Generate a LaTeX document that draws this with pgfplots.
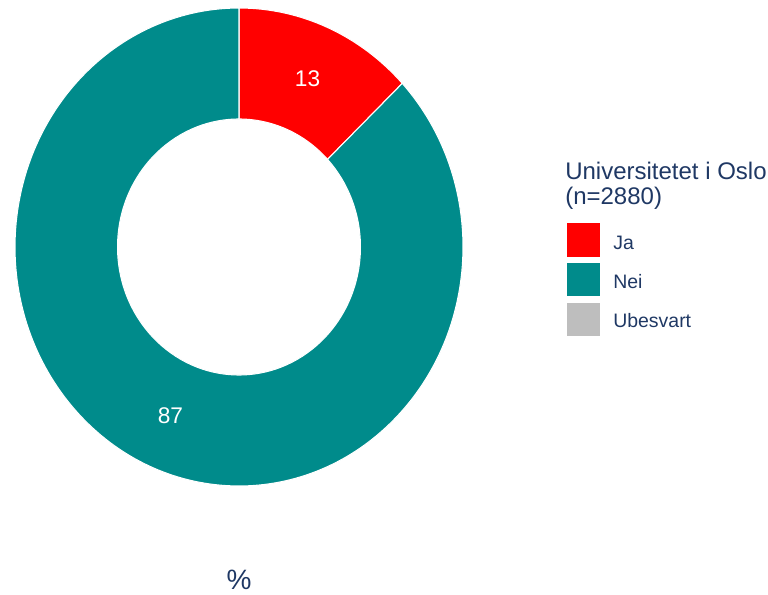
\documentclass[border=0pt]{standalone}
\usepackage{pgfplots}
\pgfplotsset{compat=1.18}
\usepackage{pgfplotstable}
\usepackage{fontspec}
\setmainfont{Liberation Sans}

\definecolor{ja}{RGB}{255,0,0}
\definecolor{nei}{RGB}{0,139,139}
\definecolor{ubesvart}{RGB}{190,190,190}
\definecolor{txt}{RGB}{31,56,100}

% share in percent
\pgfplotstableread{
label value
Ja 13
Nei 87
Ubesvart 0
}\svar

\pgfplotstablegetelem{0}{value}\of\svar \let\vJa\pgfplotsretval
\pgfplotstablegetelem{1}{value}\of\svar \let\vNei\pgfplotsretval

\pgfmathsetmacro\aA{90}
\pgfmathsetmacro\aB{90-3.6*\vJa}
\pgfmathsetmacro\aC{\aB-3.6*\vNei}
\pgfmathsetmacro\mJa{(\aA+\aB)/2}
\pgfmathsetmacro\mNei{(\aB+\aC)/2}

% outer 168pt x 179.25pt, inner 91.1pt x 96pt (ring a bit taller than wide)
\newcommand\sector[3]{%
  \fill[#1, draw=white, line width=0.8pt] (c) ++(#2:168pt and 179.25pt)
    arc[start angle=#2, end angle=#3, x radius=168pt, y radius=179.25pt]
    -- ([shift={(#3:91.1pt and 96pt)}]c)
    arc[start angle=#3, end angle=#2, x radius=91.1pt, y radius=96pt] -- cycle;}

\begin{document}
\begin{tikzpicture}
\begin{axis}[
  width=576pt, height=446.25pt, scale only axis,
  hide axis, clip=false,
  xmin=0, xmax=768, ymin=0, ymax=595, y dir=reverse,
]
\coordinate (c) at (axis cs:239,247);
\sector{ja}{\aA}{\aB}
\sector{nei}{\aB}{\aC}
\node[white, font=\fontsize{17}{20}\selectfont] at ([shift={(\mJa:129.5pt and 137.6pt)}]c) {\vJa};
\node[white, font=\fontsize{17}{20}\selectfont] at ([shift={(\mNei:129.5pt and 137.6pt)}]c) {\vNei};

% legend
\node[txt, anchor=base west, inner sep=0pt, font=\fontsize{18}{20}\selectfont] at (axis cs:565,180) {Universitetet i Oslo};
\node[txt, anchor=base west, inner sep=0pt, font=\fontsize{18}{20}\selectfont] at (axis cs:565,205) {(n=2880)};
\fill[ja] (axis cs:567,223) rectangle (axis cs:600,257);
\fill[nei] (axis cs:567,263) rectangle (axis cs:600,296);
\fill[ubesvart] (axis cs:567,303) rectangle (axis cs:600,336);
\node[txt, anchor=base west, inner sep=0pt, font=\fontsize{14.6}{16}\selectfont] at (axis cs:613,250) {Ja};
\node[txt, anchor=base west, inner sep=0pt, font=\fontsize{14.6}{16}\selectfont] at (axis cs:613,289) {Nei};
\node[txt, anchor=base west, inner sep=0pt, font=\fontsize{14.6}{16}\selectfont] at (axis cs:613,328) {Ubesvart};

\node[txt, font=\fontsize{21}{24}\selectfont] at (axis cs:239,580) {\%};
\end{axis}
\pgfresetboundingbox
\useasboundingbox (current axis.south west) rectangle (current axis.north east);
\end{tikzpicture}
\end{document}
